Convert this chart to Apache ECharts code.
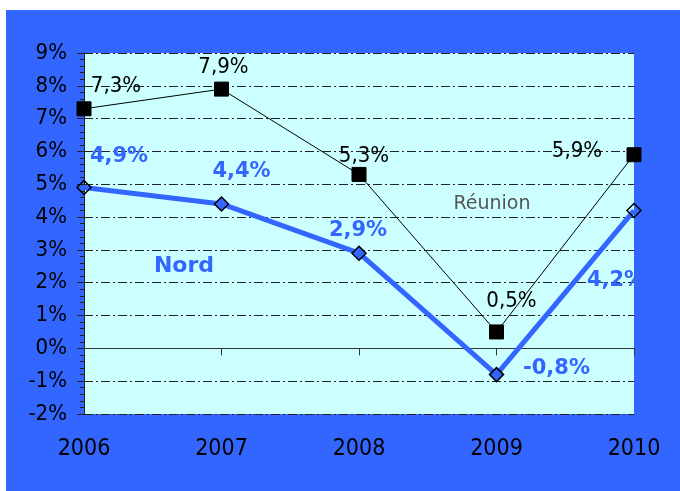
<!DOCTYPE html>
<html><head><meta charset="utf-8">
<script src="https://cdn.jsdelivr.net/npm/echarts@6/dist/echarts.min.js"></script>
<style>html,body{margin:0;padding:0;background:#fff;}
#c{position:absolute;left:6px;top:10px;width:674px;height:481px;}</style>
</head><body><div id="c"></div>
<script>
const years = ['2006', '2007', '2008', '2009', '2010'];
const reunion = [7.3, 7.9, 5.3, 0.5, 5.9];
const nord = [4.9, 4.4, 2.9, -0.8, 4.2];
const yMin = -2, yMax = 9, yStep = 1;

// label placement (layout only)
const reunionLabelOffsets = [[32, -23], [2, -22], [5, -18], [15, -31], [-57, -3]];
const nordLabelOffsets = [[35, -31], [20, -32], [-1, -23], [60, -6], [-18, 70]];

const BLUE = '#3366FF';
const fmt = p => String(p.value).replace('.', ',') + '%';
const last = nord.length - 1;

const chart = echarts.init(document.getElementById('c'));
chart.setOption({
  backgroundColor: BLUE,
  animation: false,
  grid: { left: 78, right: 46, top: 43, bottom: 77, show: true, backgroundColor: '#CCFFFF', borderWidth: 0 },
  xAxis: [{
    type: 'category', data: years, boundaryGap: false,
    axisLine: { onZero: true, lineStyle: { color: '#333', width: 1 } },
    axisTick: { show: true, length: 7, lineStyle: { color: '#333' } },
    axisLabel: { show: false }
  }, {
    type: 'category', data: years, boundaryGap: false, position: 'bottom',
    axisLine: { show: false, onZero: false }, axisTick: { show: false },
    axisLabel: { show: true, margin: 24, color: '#000', fontFamily: 'DejaVu Sans Condensed', fontSize: 23 }
  }],
  yAxis: {
    type: 'value', min: yMin, max: yMax, interval: yStep,
    axisLine: { show: true, onZero: false, lineStyle: { color: '#222', width: 1 } },
    axisTick: { show: true, length: 7, lineStyle: { color: '#222' } },
    minorTick: { show: true, splitNumber: 5, length: 4, lineStyle: { color: '#222' } },
    axisLabel: { formatter: '{value}%', margin: 17, color: '#000', fontFamily: 'DejaVu Sans Condensed', fontSize: 22 },
    splitLine: { show: true, lineStyle: { color: '#222', width: 1, type: [9, 3, 2, 3] } }
  },
  series: [{
    name: 'Réunion', type: 'line', xAxisIndex: 0,
    data: reunion.map((v, i) => ({ value: v, label: { offset: reunionLabelOffsets[i] } })),
    symbol: 'rect', symbolSize: 14,
    lineStyle: { color: '#000', width: 1 },
    itemStyle: { color: '#000', borderColor: '#000' },
    label: { show: true, position: 'inside', formatter: fmt, color: '#000', fontFamily: 'DejaVu Sans Condensed', fontSize: 22 },
    z: 3
  }, {
    name: 'Nord', type: 'line', xAxisIndex: 0,
    data: nord.map((v, i) => ({
      value: v,
      label: { offset: nordLabelOffsets[i] },
      itemStyle: { color: (i > 0 && i < last) ? BLUE : 'rgba(0,0,0,0)' }
    })),
    symbol: 'diamond', symbolSize: 14,
    lineStyle: { color: BLUE, width: 5 },
    itemStyle: { color: 'rgba(0,0,0,0)', borderColor: '#000', borderWidth: 1.5 },
    label: { show: true, position: 'inside', formatter: fmt, color: BLUE, fontFamily: 'DejaVu Sans', fontWeight: 'bold', fontSize: 21 },
    z: 4
  }],
  graphic: [
    { type: 'text', x: 178, y: 256, z: 10, style: { text: 'Nord', align: 'center', verticalAlign: 'middle', fill: BLUE, font: 'bold 22px "DejaVu Sans"' } },
    { type: 'text', x: 486, y: 194, z: 10, style: { text: 'Réunion', align: 'center', verticalAlign: 'middle', fill: '#555', font: '19px "DejaVu Sans"' } }
  ]
});
</script></body></html>
